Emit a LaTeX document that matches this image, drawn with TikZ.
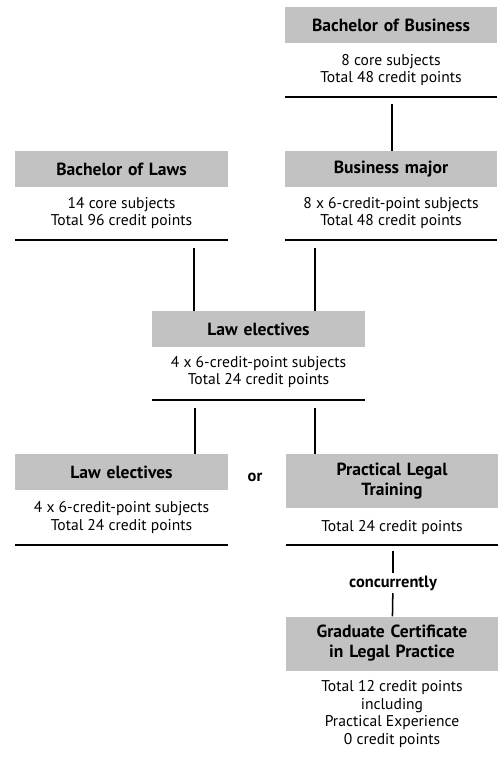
\documentclass[tikz,border=0pt]{standalone}
\usepackage{fontspec}
\setmainfont{PT Sans}
\usetikzlibrary{positioning,calc}
\tikzset{
  heading/.style={fill=black!24,text width=6.36cm,align=center,minimum height=1.08cm,
    inner sep=0pt,font=\fontsize{15}{17}\selectfont\bfseries},
  twoline/.style={heading,minimum height=1.62cm},
  info/.style={align=center,inner sep=0pt,font=\fontsize{13.3}{15.3}\selectfont},
  bar/.style={line width=1.5pt},
  link/.style={line width=1.3pt},
  word/.style={font=\fontsize{14}{15}\selectfont\bfseries,inner sep=0pt,minimum height=0.6cm}
}
\begin{document}
\begin{tikzpicture}[x=0.03cm,y=-0.03cm]
  \useasboundingbox (0,0) rectangle (497,759);

  % business side
  \node [heading] (bus) at (391,25) {Bachelor of Business};
  \node [info] (busi) at (391,70) {8 core subjects\\Total 48 credit points};
  \draw [bar] (bus.west |- 0,97) -- (bus.east |- 0,97);

  \node [heading] (maj) at (391,169) {Business major};
  \node [info] (maji) at (391,213) {8 x 6-credit-point subjects\\Total 48 credit points};
  \draw [bar] (maj.west |- 0,240) -- (maj.east |- 0,240);

  % law side
  \node [heading] (law) at (121.5,169) {Bachelor of Laws};
  \node [info] (lawi) at (121.5,213) {14 core subjects\\Total 96 credit points};
  \draw [bar] (law.west |- 0,240) -- (law.east |- 0,240);

  \node [heading] (ele) at (258.5,329) {Law electives};
  \node [info] (elei) at (258.5,372) {4 x 6-credit-point subjects\\Total 24 credit points};
  \draw [bar] (ele.west |- 0,400) -- (ele.east |- 0,400);

  % the two options
  \node [heading] (ele2) at (121.5,472) {Law electives};
  \node [info] (ele2i) at (121.5,517.5) {4 x 6-credit-point subjects\\Total 24 credit points};
  \draw [bar] (ele2.west |- 0,545) -- (ele2.east |- 0,545);
  \node [word] (or) at (255,477) {or};

  \node [twoline] (plt) at (392,481) {Practical Legal\\Training};
  \node [info] (plti) at (392,528) {Total 24 credit points};
  \draw [bar] (plt.west |- 0,545) -- (plt.east |- 0,545);

  \node [word] (conc) at (393,583) {concurrently};

  \node [twoline] (gcl) at (392,643.5) {Graduate Certificate\\in Legal Practice};
  \node [info,font=\fontsize{13.3}{14.8}\selectfont] (gcli) at (392,714) {Total 12 credit points\\including\\Practical Experience\\0 credit points};

  % connectors
  \coordinate (t1) at (392,104);
  \coordinate (t2) at (194,248);
  \coordinate (t3) at (315,248);
  \coordinate (t4) at (195,408);
  \coordinate (t5) at (315,408);
  \coordinate (t6) at (393,551);
  \draw [link] (t1) -- (t1 |- maj.north);
  \draw [link] (t2) -- (t2 |- ele.north);
  \draw [link] (t3) -- (t3 |- ele.north);
  \draw [link] (t4) -- (t4 |- ele2.north);
  \draw [link] (t5) -- (t5 |- plt.north);
  \draw [link] (t6) -- (conc);
  \draw [link] (conc) -- (gcl);
\end{tikzpicture}
\end{document}
